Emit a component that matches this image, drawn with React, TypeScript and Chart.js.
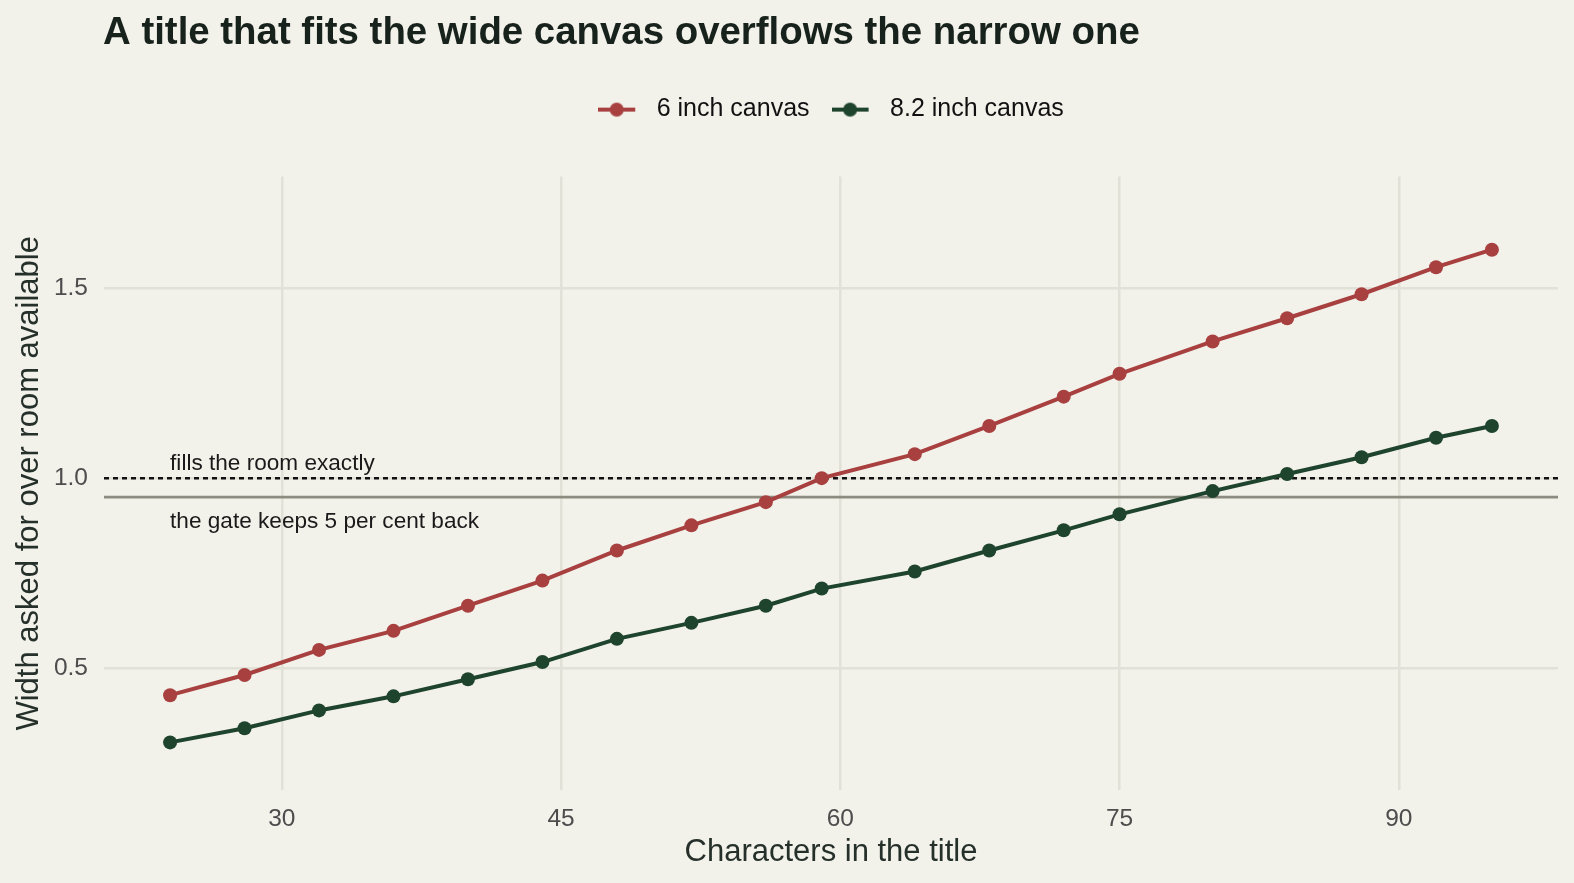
import { useEffect, useRef } from "react";
import { Chart, registerables } from "chart.js";

Chart.register(...registerables);

// characters in the title (x) and width asked / room available (y)
const CHARS = [24, 28, 32, 36, 40, 44, 48, 52, 56, 59, 64, 68, 72, 75, 80, 84, 88, 92, 95];
const SIX_INCH = [
  0.43, 0.483, 0.549, 0.599, 0.665, 0.731, 0.81, 0.876, 0.937, 1.0, 1.063, 1.137, 1.214, 1.274,
  1.359, 1.42, 1.483, 1.554, 1.6,
];
const EIGHT_INCH = [
  0.306, 0.343, 0.39, 0.427, 0.472, 0.517, 0.578, 0.62, 0.665, 0.71, 0.755, 0.81, 0.863, 0.905,
  0.966, 1.011, 1.055, 1.106, 1.137,
];
const SERIES_NAMES = ["6 inch canvas", "8.2 inch canvas"];
const X_TICKS = [30, 45, 60, 75, 90];
const Y_TICKS = [0.5, 1.0, 1.5];
const FULL_ROOM = 1.0;
const GATE = 0.95;
const NOTE_X = 24;
const NOTE_ABOVE = "fills the room exactly";
const NOTE_BELOW = "the gate keeps 5 per cent back";

const RED = "#a84040";
const GREEN = "#1f442e";
const BG = "#f2f1ea";
const GRID = "#e2e1d8";
const INK = "#18221c";
const FONT = "'Liberation Sans', Arial, Helvetica, sans-serif";
const LEGEND_LIFT = 44.5;

function swatch(color: string) {
  const c = document.createElement("canvas");
  c.width = 46;
  c.height = 16;
  const ctx = c.getContext("2d")!;
  ctx.strokeStyle = color;
  ctx.lineWidth = 4;
  ctx.beginPath();
  ctx.moveTo(0, 8);
  ctx.lineTo(37, 8);
  ctx.stroke();
  ctx.fillStyle = color;
  ctx.beginPath();
  ctx.arc(18.5, 8, 7, 0, Math.PI * 2);
  ctx.fill();
  return c;
}

const guides = {
  id: "guides",
  beforeDraw(chart: any) {
    const { ctx, width, height } = chart;
    ctx.save();
    ctx.fillStyle = BG;
    ctx.fillRect(0, 0, width, height);
    ctx.restore();
  },
  afterLayout(chart: any) {
    const ca = chart.chartArea;
    const lg = chart.legend;
    if (lg) {
      const dx = (ca.left + ca.right) / 2 - (lg.left + lg.right) / 2;
      lg.left += dx;
      lg.right += dx;
      lg.top -= LEGEND_LIFT;
      lg.bottom -= LEGEND_LIFT;
    }
    const tb = chart.titleBlock;
    if (tb) {
      const w = tb.right - tb.left;
      tb.left = ca.left - 1;
      tb.right = tb.left + w;
    }
  },
  beforeDatasetsDraw(chart: any) {
    const { ctx, chartArea: ca, scales } = chart;
    const yFull = scales.y.getPixelForValue(FULL_ROOM);
    const yGate = scales.y.getPixelForValue(GATE);
    const xNote = scales.x.getPixelForValue(NOTE_X);
    ctx.save();
    ctx.lineWidth = 2.7;
    ctx.strokeStyle = "#8c8c80";
    ctx.beginPath();
    ctx.moveTo(ca.left, yGate);
    ctx.lineTo(ca.right, yGate);
    ctx.stroke();
    ctx.lineWidth = 2.5;
    ctx.strokeStyle = "#111111";
    ctx.setLineDash([5, 4]);
    ctx.beginPath();
    ctx.moveTo(ca.left, yFull);
    ctx.lineTo(ca.right, yFull);
    ctx.stroke();
    ctx.setLineDash([]);
    ctx.fillStyle = "#1a1a1a";
    ctx.font = `22.6px ${FONT}`;
    ctx.textAlign = "left";
    ctx.textBaseline = "alphabetic";
    ctx.fillText(NOTE_ABOVE, xNote, yFull - 8);
    ctx.fillText(NOTE_BELOW, xNote, yGate + 31);
    ctx.restore();
  },
};

const App = () => {
  const chartRef = useRef<HTMLCanvasElement>(null);
  useEffect(() => {
    const swatches = [swatch(RED), swatch(GREEN)];
    const chart = new Chart(chartRef.current!, {
      type: "line",
      data: {
        datasets: [
          {
            label: SERIES_NAMES[0],
            data: CHARS.map((x, i) => ({ x, y: SIX_INCH[i] })),
            borderColor: RED,
            backgroundColor: RED,
            borderWidth: 4,
            pointRadius: 7,
            pointBorderWidth: 0,
            tension: 0,
          },
          {
            label: SERIES_NAMES[1],
            data: CHARS.map((x, i) => ({ x, y: EIGHT_INCH[i] })),
            borderColor: GREEN,
            backgroundColor: GREEN,
            borderWidth: 4,
            pointRadius: 7,
            pointBorderWidth: 0,
            tension: 0,
          },
        ],
      },
      options: {
        responsive: false,
        animation: false,
        layout: { padding: { left: 10, right: 16, top: 0, bottom: 10 } },
        plugins: {
          title: {
            display: true,
            text: "A title that fits the wide canvas overflows the narrow one",
            align: "start",
            color: INK,
            font: { family: FONT, size: 38.4, weight: "bold" },
            padding: { top: 10, bottom: 63.5 },
          },
          legend: {
            display: true,
            position: "top",
            labels: {
              usePointStyle: true,
              pointStyleWidth: 46,
              padding: 22,
              color: "#111111",
              font: { family: FONT, size: 25 },
              generateLabels: (c: any) =>
                Chart.defaults.plugins.legend.labels
                  .generateLabels(c)
                  .map((item: any, i: number) => ({ ...item, pointStyle: swatches[i] })),
            },
          },
          tooltip: { enabled: false },
        },
        scales: {
          x: {
            type: "linear",
            min: 20.45,
            max: 98.55,
            afterBuildTicks: (s: any) => {
              s.ticks = X_TICKS.map((value) => ({ value }));
            },
            afterFit: (s: any) => {
              s.height = 83;
            },
            grid: { color: GRID, lineWidth: 2.5, drawTicks: false },
            border: { display: false },
            ticks: { padding: 15, color: "#4d4d4d", font: { family: FONT, size: 24.5 } },
            title: {
              display: true,
              text: "Characters in the title",
              color: "#26302a",
              font: { family: FONT, size: 31 },
              padding: { top: 0, bottom: 2 },
            },
          },
          y: {
            type: "linear",
            min: 0.181,
            max: 1.792,
            afterBuildTicks: (s: any) => {
              s.ticks = Y_TICKS.map((value) => ({ value }));
            },
            afterFit: (s: any) => {
              s.width = 94;
            },
            grid: { color: GRID, lineWidth: 2.5, drawTicks: false },
            border: { display: false },
            ticks: {
              padding: 16,
              color: "#4d4d4d",
              font: { family: FONT, size: 24.5 },
              callback: (v: any) => Number(v).toFixed(1),
            },
            title: {
              display: true,
              text: "Width asked for over room available",
              color: "#26302a",
              font: { family: FONT, size: 31 },
              padding: { top: 1, bottom: 0 },
            },
          },
        },
      },
      plugins: [guides],
    });

    return () => {
      chart.destroy();
    };
  }, []);

  return (
    <div style={{ position: "absolute", left: 0, top: 0, width: 1574, height: 883, background: BG }}>
      <canvas ref={chartRef} width={1574} height={883} />
    </div>
  );
};

export default App;
